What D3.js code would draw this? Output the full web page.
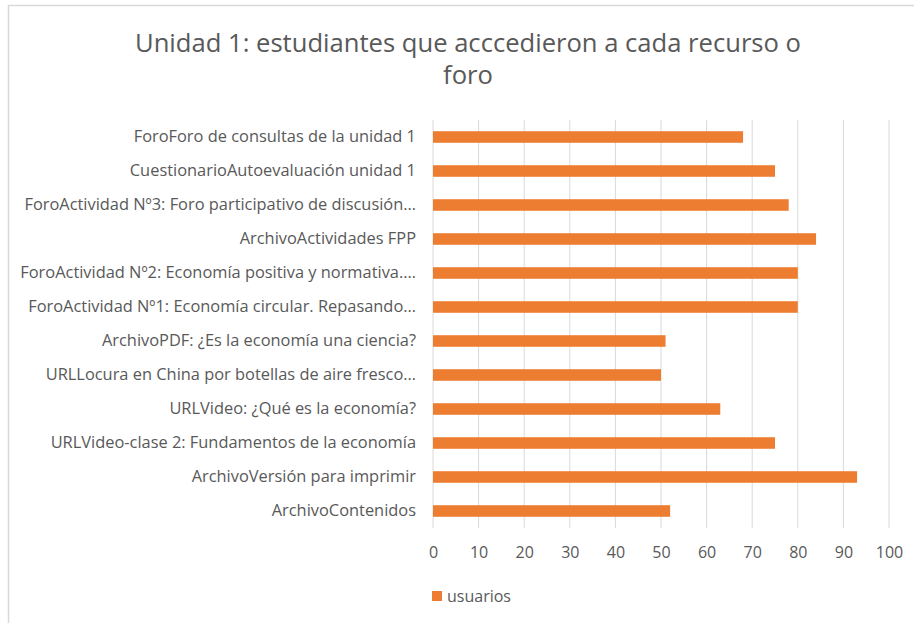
<!DOCTYPE html>
<html>
<head>
<meta charset="utf-8">
<title>Unidad 1</title>
<script src="https://d3js.org/d3.v7.min.js"></script>
<style>
  body { margin: 0; background: #fff; }
  svg { display: block; font-family: "Open Sans", "Noto Sans", sans-serif; }
</style>
</head>
<body>
<svg></svg>
<script>
// datos
const categorias = [
  'ForoForo de consultas de la unidad 1',
  'CuestionarioAutoevaluación unidad 1',
  'ForoActividad Nº3: Foro participativo de discusión…',
  'ArchivoActividades FPP',
  'ForoActividad Nº2: Economía positiva y normativa.…',
  'ForoActividad Nº1: Economía circular. Repasando…',
  'ArchivoPDF: ¿Es la economía una ciencia?',
  'URLLocura en China por botellas de aire fresco…',
  'URLVideo: ¿Qué es la economía?',
  'URLVideo-clase 2: Fundamentos de la economía',
  'ArchivoVersión para imprimir',
  'ArchivoContenidos'
];
const usuarios = [68, 75, 78, 84, 80, 80, 51, 50, 63, 75, 93, 52];
const ticks = [0, 10, 20, 30, 40, 50, 60, 70, 80, 90, 100];
const serie = 'usuarios';
const titulo = ['Unidad 1: estudiantes que acccedieron a cada recurso o', 'foro'];

const width = 914, height = 623;
const plot = { left: 433, right: 889, top: 120, bottom: 528 };
const gris = '#595959';
const naranja = '#ed7d31';
const fuente = '"Open Sans", "Noto Sans", sans-serif';

const svg = d3.select('svg').attr('width', width).attr('height', height);

// marco
svg.append('rect')
  .attr('x', 8.5).attr('y', 5.5)
  .attr('width', width + 10).attr('height', height + 10)
  .attr('fill', '#fff').attr('stroke', '#d9d9d9').attr('stroke-width', 1.5);

// título
svg.append('g').selectAll('text').data(titulo).enter().append('text')
  .attr('x', 468).attr('y', (d, i) => 52 + i * 32)
  .attr('text-anchor', 'middle')
  .attr('font-size', 25.6).attr('fill', gris)
  .text(d => d);

const x = d3.scaleLinear().domain([0, 100]).range([plot.left, plot.right]);
const y = d3.scaleBand().domain(categorias).range([plot.top, plot.bottom]).paddingInner(0.66).paddingOuter(0.33);

// rejilla
svg.append('g').selectAll('line').data(ticks).enter().append('line')
  .attr('x1', d => x(d)).attr('x2', d => x(d))
  .attr('y1', plot.top).attr('y2', plot.bottom)
  .attr('stroke', '#d9d9d9').attr('stroke-width', 1);

// barras
svg.append('g').selectAll('rect').data(usuarios).enter().append('rect')
  .attr('x', x(0))
  .attr('y', (d, i) => y(categorias[i]))
  .attr('width', d => x(d) - x(0))
  .attr('height', y.bandwidth())
  .attr('fill', naranja);

// eje x
const ejeX = svg.append('g')
  .attr('transform', 'translate(0,' + (plot.bottom + 10) + ')')
  .call(d3.axisBottom(x).tickValues(ticks).tickSize(0).tickPadding(9));
ejeX.select('.domain').remove();
ejeX.selectAll('text').attr('font-size', 16).attr('fill', gris)
  .attr('font-family', fuente);

// eje y
const ejeY = svg.append('g')
  .attr('transform', 'translate(' + (plot.left - 17) + ',0)')
  .call(d3.axisLeft(y).tickSize(0).tickPadding(0));
ejeY.select('.domain').remove();
ejeY.selectAll('text').attr('font-size', 16.4).attr('fill', gris)
  .attr('font-family', fuente);

// leyenda
const leyenda = svg.append('g').attr('transform', 'translate(432,591)');
leyenda.append('rect').attr('width', 10).attr('height', 10).attr('fill', naranja);
leyenda.append('text').attr('x', 15).attr('y', 10.5)
  .attr('font-size', 16).attr('fill', gris).text(serie);
</script>
</body>
</html>
